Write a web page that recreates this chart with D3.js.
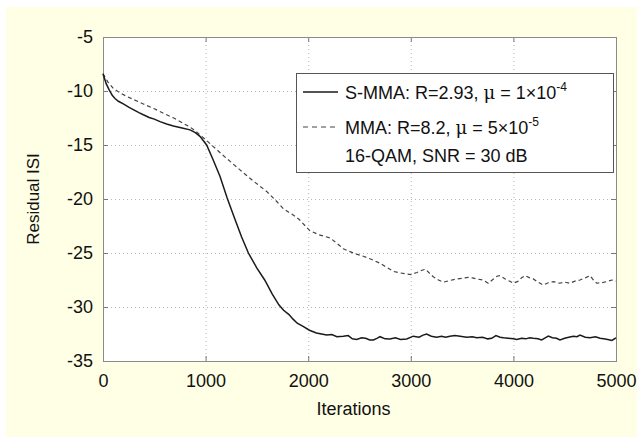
<!DOCTYPE html>
<html>
<head>
<meta charset="utf-8">
<script src="https://cdn.jsdelivr.net/npm/d3@7"></script>
<style>
  body { margin: 0; background: #fff; }
  svg { display: block; }
  svg text { font-family: "Liberation Sans", Arial, sans-serif; fill: #111; }
</style>
</head>
<body>
<div class="canva"></div>
<script>
// iterations / residual ISI
const smmaIter = [0, 30, 60, 90, 117, 150, 198, 250, 300, 350, 393, 450, 500, 556, 620, 686, 760, 848, 900, 945,
  1010, 1070, 1140, 1210, 1287, 1350, 1417, 1500, 1576, 1650, 1714, 1760, 1813, 1850, 1893, 1950, 2012, 2080, 2130, 2180,
  2230, 2280, 2342, 2390, 2430, 2472, 2520, 2560, 2600, 2635, 2670, 2700, 2750, 2797, 2850, 2900, 2960, 3024, 3080, 3120,
  3154, 3200, 3251, 3300, 3340, 3381, 3430, 3480, 3545, 3600, 3642, 3700, 3750, 3788, 3830, 3870, 3904, 3950, 4000, 4032,
  4080, 4120, 4160, 4194, 4240, 4275, 4310, 4340, 4380, 4420, 4454, 4500, 4540, 4584, 4620, 4649, 4700, 4747, 4800, 4844,
  4880, 4920, 4960, 5000];
const smmaISI = [-8.4, -9.3, -9.9, -10.4, -10.7, -10.95, -11.2, -11.5, -11.75, -12.0, -12.2, -12.45, -12.6, -12.84, -13.05, -13.24, -13.4, -13.6, -13.85, -14.2,
  -15.0, -16.3, -17.9, -19.9, -21.9, -23.5, -25.0, -26.4, -27.5, -28.8, -29.8, -30.3, -30.7, -31.1, -31.5, -31.8, -32.15, -32.4, -32.5, -32.6,
  -32.55, -32.75, -32.7, -32.65, -32.95, -33.0, -32.85, -32.9, -33.05, -33.05, -32.9, -32.75, -32.95, -32.96, -32.85, -33.0, -32.96, -32.7, -32.8, -32.6,
  -32.5, -32.7, -32.8, -32.7, -32.8, -32.7, -32.65, -32.7, -32.8, -32.75, -32.85, -32.8, -32.95, -32.9, -32.65, -32.8, -32.85, -32.9, -32.95, -33.0,
  -32.9, -32.95, -32.85, -32.9, -32.95, -33.05, -32.85, -32.7, -32.85, -32.9, -33.05, -32.9, -32.8, -32.7, -32.75, -32.6, -32.8, -32.85, -32.75, -32.9,
  -32.95, -33.0, -33.1, -32.85];

const mmaIter = [0, 50, 100, 160, 231, 300, 393, 500, 621, 700, 783, 850, 913, 1000, 1075, 1200, 1335, 1460, 1595, 1680,
  1758, 1840, 1913, 2012, 2100, 2211, 2280, 2342, 2400, 2470, 2537, 2620, 2700, 2760, 2830, 2900, 2960, 3003, 3060, 3110,
  3143, 3180, 3219, 3270, 3317, 3380, 3446, 3500, 3560, 3600, 3642, 3700, 3755, 3800, 3840, 3869, 3920, 3960, 3999, 4050,
  4080, 4113, 4160, 4194, 4240, 4291, 4340, 4389, 4450, 4500, 4552, 4600, 4649, 4700, 4747, 4780, 4812, 4860, 4909, 4960, 5000];
const mmaISI = [-8.4, -9.2, -9.75, -10.15, -10.5, -10.8, -11.2, -11.65, -12.2, -12.55, -13.0, -13.35, -13.8, -14.5, -15.15, -16.2, -17.3, -18.3, -19.3, -20.1,
  -20.9, -21.4, -21.9, -22.9, -23.3, -23.6, -24.1, -24.6, -24.85, -25.1, -25.3, -25.6, -25.95, -26.3, -26.7, -26.85, -26.95, -27.0, -26.8, -26.6,
  -26.5, -26.85, -27.2, -27.5, -27.7, -27.55, -27.4, -27.35, -27.25, -27.3, -27.4, -27.5, -27.8, -27.45, -27.15, -27.1, -27.4, -27.6, -27.8, -27.6,
  -27.3, -27.1, -27.3, -27.4, -27.7, -27.96, -27.75, -27.65, -27.8, -27.7, -27.8, -27.6, -27.5, -27.3, -27.1, -27.5, -27.8, -27.75, -27.65, -27.5, -27.6];

const xTicks = [0, 1000, 2000, 3000, 4000, 5000];
const yTicks = [-35, -30, -25, -20, -15, -10, -5];

const canvas = d3.select('.canva');
const svg = canvas.append('svg')
  .attr('width', 637)
  .attr('height', 437);

// yellowish figure background
svg.append('rect')
  .attr('x', 6).attr('y', 7)
  .attr('width', 631).attr('height', 430)
  .attr('fill', '#ffffe5');

const pLeft = 103, pRight = 616, pTop = 37, pBottom = 361;

const x = d3.scaleLinear().domain([0, 5000]).range([pLeft, pRight]);
const y = d3.scaleLinear().domain([-35, -5]).range([pBottom, pTop]);

svg.append('rect')
  .attr('x', pLeft).attr('y', pTop)
  .attr('width', pRight - pLeft).attr('height', pBottom - pTop)
  .attr('fill', '#fff');

// dotted grid
svg.append('g').selectAll('line')
  .data(xTicks.slice(1, -1))
  .enter().append('line')
  .attr('x1', d => x(d) + 0.5).attr('x2', d => x(d) + 0.5)
  .attr('y1', pTop).attr('y2', pBottom)
  .attr('stroke', '#b8b8b8')
  .attr('stroke-dasharray', '1,3');

svg.append('g').selectAll('line')
  .data(yTicks.slice(1, -1))
  .enter().append('line')
  .attr('y1', d => y(d) + 0.5).attr('y2', d => y(d) + 0.5)
  .attr('x1', pLeft).attr('x2', pRight)
  .attr('stroke', '#b8b8b8')
  .attr('stroke-dasharray', '1,3');

// axes, ticks pointing inward like matlab
const tickLen = 5;
const plain = d => String(d);
svg.append('g')
  .attr('transform', `translate(0,${pBottom})`)
  .call(d3.axisBottom(x).tickValues(xTicks).tickFormat(plain).tickSizeInner(-tickLen).tickSizeOuter(0).tickPadding(10))
  .call(g => g.select('.domain').remove())
  .call(g => g.selectAll('line').attr('stroke', '#777'))
  .call(g => g.selectAll('text').attr('font-size', 18).attr('fill', '#111').attr('dy', '0.9em'));

svg.append('g')
  .attr('transform', `translate(0,${pTop})`)
  .call(d3.axisTop(x).tickValues(xTicks).tickSizeInner(-tickLen).tickSizeOuter(0).tickFormat(''))
  .call(g => g.select('.domain').remove())
  .call(g => g.selectAll('line').attr('stroke', '#777'));

svg.append('g')
  .attr('transform', `translate(${pLeft},0)`)
  .call(d3.axisLeft(y).tickValues(yTicks).tickFormat(plain).tickSizeInner(-tickLen).tickSizeOuter(0).tickPadding(10))
  .call(g => g.select('.domain').remove())
  .call(g => g.selectAll('line').attr('stroke', '#777'))
  .call(g => g.selectAll('text').attr('font-size', 18).attr('fill', '#111'));

svg.append('g')
  .attr('transform', `translate(${pRight},0)`)
  .call(d3.axisRight(y).tickValues(yTicks).tickSizeInner(-tickLen).tickSizeOuter(0).tickFormat(''))
  .call(g => g.select('.domain').remove())
  .call(g => g.selectAll('line').attr('stroke', '#777'));

svg.append('rect')
  .attr('x', pLeft + 0.5).attr('y', pTop + 0.5)
  .attr('width', pRight - pLeft).attr('height', pBottom - pTop)
  .attr('fill', 'none')
  .attr('stroke', '#8a8a8a');

// curves
const line = d3.line()
  .x(d => x(d[0]))
  .y(d => y(d[1]));

svg.append('path')
  .datum(mmaIter.map((t, i) => [t, mmaISI[i]]))
  .attr('d', line)
  .attr('fill', 'none')
  .attr('stroke', '#444')
  .attr('stroke-width', 1.2)
  .attr('stroke-dasharray', '4,3');

svg.append('path')
  .datum(smmaIter.map((t, i) => [t, smmaISI[i]]))
  .attr('d', line)
  .attr('fill', 'none')
  .attr('stroke', '#1a1a1a')
  .attr('stroke-width', 1.5);

// legend
const legend = svg.append('g');
legend.append('rect')
  .attr('x', 296.5).attr('y', 73.5)
  .attr('width', 317).attr('height', 99)
  .attr('fill', '#fff')
  .attr('stroke', '#555');

legend.append('line')
  .attr('x1', 303).attr('x2', 338).attr('y1', 92).attr('y2', 92)
  .attr('stroke', '#1a1a1a').attr('stroke-width', 1.5);
legend.append('line')
  .attr('x1', 303).attr('x2', 338).attr('y1', 127).attr('y2', 127)
  .attr('stroke', '#444').attr('stroke-width', 1.2)
  .attr('stroke-dasharray', '5,4');

const row1 = legend.append('text').attr('x', 345).attr('y', 98.5).attr('font-size', 18);
row1.append('tspan').text('S-MMA: R=2.93, ');
row1.append('tspan').attr('font-family', 'DejaVu Serif, serif').text('μ');
row1.append('tspan').text(' = 1×10');
row1.append('tspan').attr('font-size', 12).attr('dy', -8).text('-4');

const row2 = legend.append('text').attr('x', 345).attr('y', 133.5).attr('font-size', 18);
row2.append('tspan').text('MMA: R=8.2, ');
row2.append('tspan').attr('font-family', 'DejaVu Serif, serif').text('μ');
row2.append('tspan').text(' = 5×10');
row2.append('tspan').attr('font-size', 12).attr('dy', -8).text('-5');

legend.append('text').attr('x', 345).attr('y', 161.5).attr('font-size', 18)
  .text('16-QAM, SNR = 30 dB');

// axis labels
svg.append('text')
  .attr('x', (pLeft + pRight) / 2 - 6).attr('y', 415)
  .attr('text-anchor', 'middle')
  .attr('font-size', 18)
  .text('Iterations');

svg.append('text')
  .attr('transform', `translate(39,${(pTop + pBottom) / 2}) rotate(-90)`)
  .attr('text-anchor', 'middle')
  .attr('font-size', 17)
  .text('Residual ISI');
</script>
</body>
</html>
